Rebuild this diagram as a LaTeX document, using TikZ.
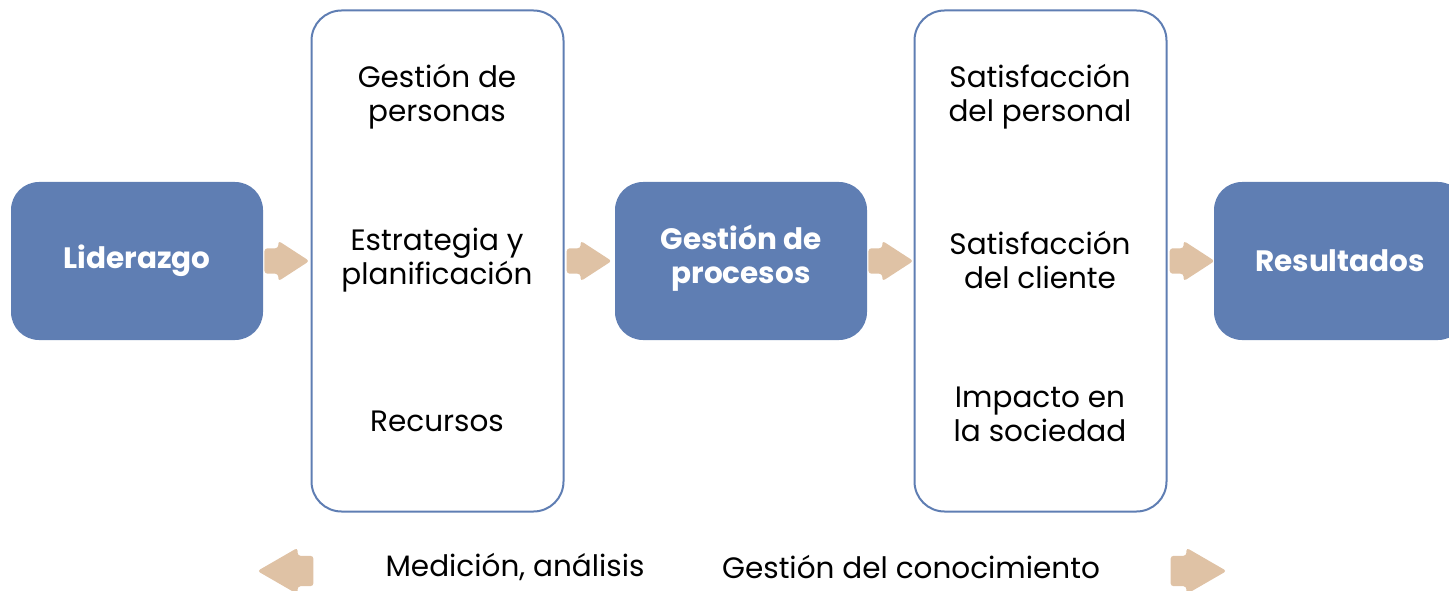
\documentclass[tikz,border=0pt]{standalone}
\usepackage{fontspec}
\setmainfont{Poppins}
\usetikzlibrary{positioning,shapes.arrows,calc}
\definecolor{azul}{HTML}{5F7EB3}
\definecolor{arena}{HTML}{DFC2A5}
\tikzset{
  bloque/.style={fill=azul, rounded corners=28pt, minimum width=252pt, minimum height=158pt,
    text=white, font=\fontsize{29.5}{34}\selectfont\bfseries, align=center},
  marco/.style={draw=azul, line width=2pt, rounded corners=30pt, minimum width=252pt, minimum height=501pt},
  texto/.style={font=\fontsize{29.5}{34}\selectfont, align=center, inner sep=0pt},
  flecha/.style={single arrow, fill=arena, draw=none, inner xsep=0pt, inner ysep=12.5pt, minimum height=45pt,
    single arrow head extend=7.5pt, single arrow tip angle=66, rounded corners=3pt},
  flechagrande/.style={flecha, minimum height=56pt, inner ysep=15pt,
    single arrow head extend=8pt, single arrow tip angle=60}
}
\begin{document}
\begin{tikzpicture}[x=1pt,y=-1pt]
    \useasboundingbox (0,0) rectangle (1449,591);
    \clip (0,0) rectangle (1449,591);

    % Cajas
    \node[bloque] (lid) at (137,261) {Liderazgo};
    \node[marco] (pers) at (437.5,261) {};
    \node[bloque, text depth=14pt] (proc) at (741,261) {Gestión de\\procesos};
    \node[marco] (sat) at (1040.5,261) {};
    \node[bloque] (res) at (1340,261) {Resultados};

    % Textos de los marcos
    \node[texto] (gpers) at (437,97) {Gestión de\\personas};
    \node[texto] (estr) at (437,260) {Estrategia y\\planificación};
    \node[texto] (recu) at (437,421) {Recursos};
    \node[texto] (satp) at (1040,97) {Satisfacción\\del personal};
    \node[texto] (satc) at (1040,260) {Satisfacción\\del cliente};
    \node[texto] (imp) at (1040,414) {Impacto en\\la sociedad};

    % Flechas
    \node[flecha, anchor=tail] (f1) at ([xshift=1pt]lid.east) {};
    \node[flecha, anchor=tail] (f2) at ([xshift=2pt]pers.east) {};
    \node[flecha, anchor=tail] (f3) at ([xshift=1pt]proc.east) {};
    \node[flecha, anchor=tail] (f4) at ([xshift=2pt]sat.east) {};

    % Linea inferior
    \node[flechagrande, shape border rotate=180, anchor=tip] (fizq) at (257,571) {};
    \node[texto] (med) at (515,567) {Medición, análisis};
    \node[texto] (con) at (911,567) {Gestión del conocimiento};
    \node[flechagrande, anchor=tip] (fder) at (1227,571) {};
\end{tikzpicture}
\end{document}
